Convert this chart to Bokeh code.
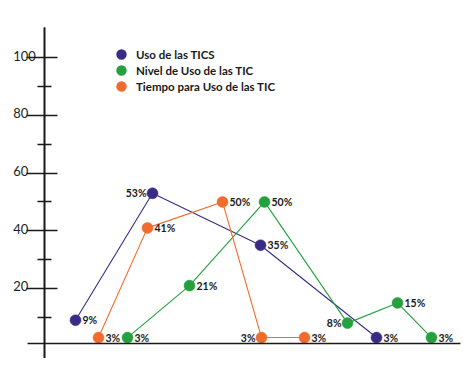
from bokeh.plotting import figure
from bokeh.models import (LinearAxis, FixedTicker, Legend, LegendItem)
from bokeh.core.properties import value
from bokeh.embed import file_html
from bokeh.resources import INLINE

# ---- data ----
series_names = ["Uso de las TICS", "Nivel de Uso de las TIC", "Tiempo para Uso de las TIC"]
uso_x = [3.1, 10.8, 21.6, 33.2]
uso_y = [9, 53, 35, 3]
nivel_x = [8.3, 14.5, 22.0, 30.3, 35.3, 38.7]
nivel_y = [3, 21, 50, 8, 15, 3]
tiempo_x = [5.4, 10.3, 17.8, 21.7, 26.0]
tiempo_y = [3, 41, 50, 3, 3]
y_major_ticks = [20, 40, 60, 80, 100]
y_minor_ticks = [10, 30, 50, 70, 90]
y_tick_labels = ["20", "40", "60", "80", "100"]

# ---- styling ----
colors = ["#3a2c86", "#24a03e", "#f26a2c"]
# labels drawn on the left side of their point (series index, point index)
left_labels = {(0, 1), (2, 3), (1, 3)}
LBL_FONT = "Lato"
AX = "#1a1a1a"

p = figure(width=466, height=358, output_backend="svg", toolbar_location=None,
           x_range=(-4.4, 42.2), y_range=(-4.26, 119.8),
           x_axis_type=None, y_axis_type=None, min_border=0,
           background_fill_color="white", border_fill_color="white")
p.outline_line_color = None
p.xgrid.visible = False
p.ygrid.visible = False

# y axis: long ticks at the labelled values, short ones between (no axis labels)
yax_major = LinearAxis(fixed_location=0, bounds=(-4.2, 110.4),
                       ticker=FixedTicker(ticks=[], minor_ticks=y_major_ticks),
                       minor_tick_in=13, minor_tick_out=18,
                       axis_line_color=AX, axis_line_width=1.6,
                       minor_tick_line_color=AX, minor_tick_line_width=1.6)
p.add_layout(yax_major, "left")
yax_minor = LinearAxis(fixed_location=0, bounds=(-4.2, 110.4),
                       ticker=FixedTicker(ticks=[], minor_ticks=y_minor_ticks),
                       minor_tick_in=7, minor_tick_out=7,
                       axis_line_color=AX, axis_line_width=1.6,
                       minor_tick_line_color=AX, minor_tick_line_width=1.6)
p.add_layout(yax_minor, "left")

xax = LinearAxis(fixed_location=0.8, bounds=(-1.7, 41.6),
                 ticker=FixedTicker(ticks=[], minor_ticks=[]),
                 axis_line_color=AX, axis_line_width=1.6)
p.add_layout(xax, "below")

# tick labels sit above the tick marks, left aligned
p.text(x=[-3.13] * len(y_major_ticks), y=y_major_ticks, text=y_tick_labels,
       text_font=value(LBL_FONT), text_font_size="13px", text_color="#222222",
       text_align="left", text_baseline="alphabetic", y_offset=-2)

all_x = [uso_x, nivel_x, tiempo_x]
all_y = [uso_y, nivel_y, tiempo_y]
legend_items = []
for si, (xs, ys) in enumerate(zip(all_x, all_y)):
    c = colors[si]
    p.line(xs, ys, line_color=c, line_width=1.1)
    p.scatter(xs, ys, size=11, fill_color=c, line_color=c, line_width=0.5)
    rx, ry, rt, lx, ly, lt = [], [], [], [], [], []
    for pi, (xv, yv) in enumerate(zip(xs, ys)):
        if (si, pi) in left_labels:
            lx.append(xv); ly.append(yv); lt.append(f"{yv}%")
        else:
            rx.append(xv); ry.append(yv); rt.append(f"{yv}%")
    p.text(x=rx, y=ry, text=rt, x_offset=7, text_align="left", text_baseline="middle",
           text_font=value(LBL_FONT), text_font_style="bold", text_font_size="10.5px",
           text_color=AX)
    p.text(x=lx, y=ly, text=lt, x_offset=-6, text_align="right", text_baseline="middle",
           text_font=value(LBL_FONT), text_font_style="bold", text_font_size="10.5px",
           text_color=AX)
    # legend swatch renderer (kept outside the visible range)
    dummy = p.scatter(x=[-100], y=[-100], size=11, fill_color=c, line_color=c, line_width=4)
    legend_items.append(LegendItem(label=series_names[si], renderers=[dummy]))

legend = Legend(items=legend_items, location=(113, 264), orientation="vertical",
                glyph_width=16, glyph_height=16, label_height=16, spacing=0,
                padding=0, margin=0, label_standoff=7,
                label_text_font=LBL_FONT, label_text_font_style="bold",
                label_text_font_size="11.5px", label_text_color=AX,
                border_line_color=None, background_fill_alpha=0)
p.add_layout(legend, "center")

open("out.html", "w").write(file_html(p, INLINE))
